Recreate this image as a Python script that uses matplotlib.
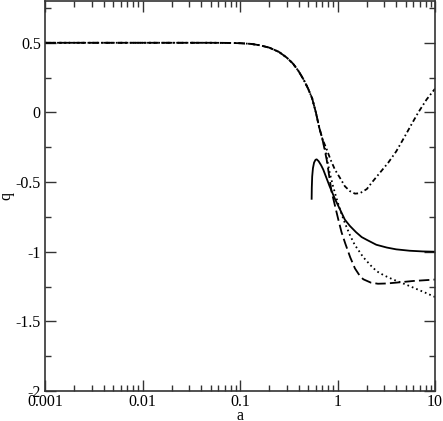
import numpy as np
import matplotlib
matplotlib.use("Agg")
import matplotlib.pyplot as plt
from matplotlib.ticker import LogLocator, MultipleLocator, FixedLocator, FixedFormatter, NullFormatter

plt.rcParams['font.family'] = ['Liberation Serif', 'DejaVu Serif']
plt.rcParams['lines.scale_dashes'] = False

a_solid = [0.543, 0.545, 0.55, 0.56, 0.575, 0.595, 0.612, 0.64, 0.68, 0.714, 0.77, 0.83,
           0.94, 1.05, 1.19, 1.34, 1.55, 1.77, 2.0, 2.5, 3.2, 4.0, 5.5, 7.5, 10.0]
q_solid = [-0.62, -0.54, -0.46, -0.40, -0.36, -0.34, -0.337, -0.35, -0.38, -0.41, -0.47, -0.53,
           -0.62, -0.69, -0.77, -0.815, -0.86, -0.895, -0.915, -0.95, -0.97, -0.983, -0.993, -0.998, -1.0]

a_early = [0.001, 0.01, 0.05, 0.08, 0.1, 0.13, 0.16, 0.2, 0.25, 0.3, 0.35, 0.4, 0.45,
           0.5, 0.55, 0.6, 0.65, 0.7]
q_early = [0.5, 0.5, 0.5, 0.499, 0.497, 0.492, 0.482, 0.465, 0.435, 0.395, 0.35, 0.295, 0.235,
           0.17, 0.10, 0.0, -0.11, -0.19]

a_dashed = a_early + [0.775, 0.87, 0.906, 1.02, 1.1, 1.2, 1.35, 1.51, 1.7, 1.84, 2.2, 2.6,
                      3.2, 4.0, 6.0, 10.0]
q_dashed = q_early + [-0.34, -0.57, -0.62, -0.77, -0.86, -0.94, -1.04, -1.12, -1.175, -1.198,
                      -1.222, -1.23, -1.228, -1.222, -1.21, -1.2]

a_dotted = a_early + [0.75, 0.83, 0.9, 0.98, 1.1, 1.2, 1.34, 1.5, 1.84, 2.2, 2.52, 3.0, 3.73,
                      5.0, 6.0, 8.0, 10.0]
q_dotted = q_early + [-0.27, -0.43, -0.53, -0.62, -0.73, -0.80, -0.88, -0.95, -1.04, -1.10,
                      -1.14, -1.17, -1.20, -1.235, -1.258, -1.295, -1.325]

a_dashdot = a_early + [0.775, 0.85, 0.94, 1.06, 1.19, 1.34, 1.51, 1.7, 2.0, 2.24, 2.6, 3.32,
                       4.0, 4.92, 5.8, 6.74, 8.2, 10.0]
q_dashdot = q_early + [-0.265, -0.34, -0.41, -0.47, -0.53, -0.565, -0.583, -0.58, -0.55, -0.505,
                       -0.45, -0.36, -0.28, -0.17, -0.08, 0.0, 0.093, 0.17]

x_ticks = [0.001, 0.01, 0.1, 1, 10]
x_labels = ['0.001', '0.01', '0.1', '1', '10']
y_ticks = [-2, -1.5, -1, -0.5, 0, 0.5]
y_labels = ['-2', '-1.5', '-1', '-0.5', '0', '0.5']

fig = plt.figure(figsize=(4.43, 4.21), dpi=100)
ax = fig.add_axes([45 / 443, 30 / 421, 390 / 443, 390 / 421])

lw = 1.3
ax.plot(a_solid, q_solid, color='black', lw=lw, ls='-')
ax.plot(a_dashed, q_dashed, color='black', lw=lw, ls=(0, (7.5, 3)))
ax.plot(a_dotted, q_dotted, color='black', lw=lw, ls=(0, (1.2, 2.2)))
ax.plot(a_dashdot, q_dashdot, color='black', lw=lw, ls=(0, (3.5, 2, 1.2, 2)))

ax.set_xscale('log')
ax.set_xlim(0.001, 10)
ax.set_ylim(-2, 0.8)

ax.xaxis.set_major_locator(FixedLocator(x_ticks))
ax.xaxis.set_major_formatter(FixedFormatter(x_labels))
ax.xaxis.set_minor_locator(LogLocator(base=10, subs=np.arange(2, 10)))
ax.xaxis.set_minor_formatter(NullFormatter())
ax.yaxis.set_major_locator(FixedLocator(y_ticks))
ax.yaxis.set_major_formatter(FixedFormatter(y_labels))
ax.yaxis.set_minor_locator(MultipleLocator(0.25))

ax.tick_params(which='both', direction='in', top=True, right=True, color='#333333',
               labelsize=11.5, width=1.0)
ax.tick_params(which='major', length=8)
ax.tick_params(which='minor', length=4.5)
ax.tick_params(axis='x', pad=2)
ax.tick_params(axis='y', pad=3)

for s in ax.spines.values():
    s.set_color('#333333')
    s.set_linewidth(1.2)

ax.set_xlabel('a', fontsize=11.5, labelpad=-1.5)
ax.set_ylabel('q', fontsize=11.5, labelpad=1)

fig.savefig('out.png', dpi=100)
